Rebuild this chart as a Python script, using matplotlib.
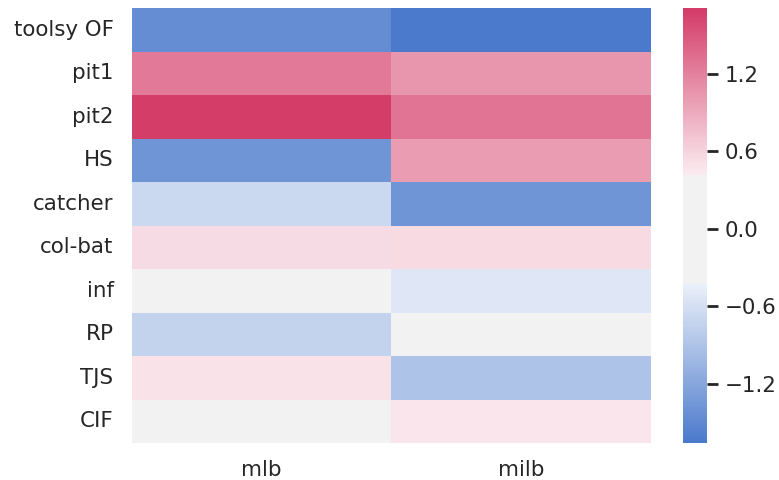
import colorsys
import matplotlib
matplotlib.use("Agg")
import matplotlib.pyplot as plt
import numpy as np
import pandas as pd
import seaborn as sns
from seaborn.external import husl

rows = ["toolsy OF", "pit1", "pit2", "HS", "catcher", "col-bat", "inf", "RP", "TJS", "CIF"]
cols = ["mlb", "milb"]
mlb = [-1.45, 1.25, 1.71, -1.38, -0.68, 0.55, 0.05, -0.75, 0.48, 0.02]
milb = [-1.66, 1.05, 1.30, 1.00, -1.38, 0.56, -0.52, 0.02, -0.90, 0.47]

sns.set_theme(style="white", font_scale=1.4)


def light_ramp(h, s, l, n, reverse=False):
    """Blend from a pale tint of a husl colour to the colour itself."""
    rgb = np.clip(husl.husl_to_rgb(h, s, l), 0, 1)
    hh, _, ss = colorsys.rgb_to_hls(*rgb)
    pale = colorsys.hls_to_rgb(hh, 0.95, ss)
    t = np.linspace(0, 1, n)[:, None]
    ramp = np.array(pale)[None, :] * (1 - t) + np.array(rgb)[None, :] * t
    return ramp[::-1] if reverse else ramp


def diverging(h_neg, h_pos, s=75, l=50, sep=64, n=256):
    half = 128 - sep // 2
    neg = light_ramp(h_neg, s, l, half, reverse=True)
    pos = light_ramp(h_pos, s, l, half)
    mid = np.tile([0.95, 0.95, 0.95], (sep, 1))
    colors = np.concatenate([neg, mid, pos])
    return matplotlib.colors.LinearSegmentedColormap.from_list("div", colors, N=n)


df = pd.DataFrame({"mlb": mlb, "milb": milb}, index=rows)[cols]
cmap = diverging(255, 0, sep=64)

fig = plt.figure(figsize=(7.79, 4.8), dpi=100)
ax = fig.add_axes([0.169, 0.077, 0.667, 0.906])
cax = fig.add_axes([0.877, 0.077, 0.03, 0.906])
sns.heatmap(df, cmap=cmap, center=0, ax=ax, cbar_ax=cax,
            cbar_kws={"ticks": [-1.2, -0.6, 0.0, 0.6, 1.2]})
ax.tick_params(axis="both", length=0)
ax.tick_params(axis="y", rotation=0, labelsize=15.4, pad=13)
ax.tick_params(axis="x", labelsize=15.4, pad=12)
cax.tick_params(length=8, width=2, labelsize=15.4, pad=5)
fig.savefig("out.png", dpi=100)
